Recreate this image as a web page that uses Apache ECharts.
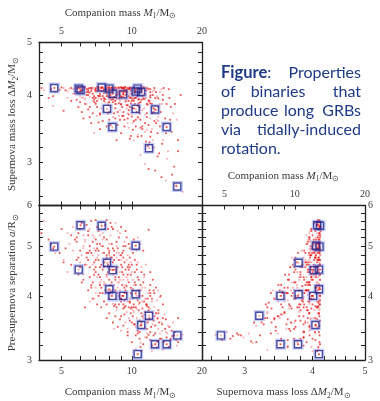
<!DOCTYPE html>
<html><head><meta charset="utf-8">
<script src="https://cdn.jsdelivr.net/npm/echarts@6/dist/echarts.min.js"></script>
<style>html,body{margin:0;padding:0;background:#fff;overflow:hidden}#c{width:380px;height:401px}</style>
</head><body><div id="c"></div>
<script>
// ---- axis ranges and ticks (real values; axes are drawn in log10 space) ----
const M1_RANGE = [4, 20];
const DM2_RANGE = [2.5, 5];
const A_RANGE = [3, 6];
const M1_LABELS = [5, 10, 20];
const M1_TICKS = [5, 6, 7, 8, 9, 10, 20];
const DM2_LABELS = [3, 4, 5];
const DM2_TICKS = [2.6, 2.8, 3.0, 3.2, 3.4, 3.6, 3.8, 4.0, 4.2, 4.4, 4.6, 4.8];
const A_LABELS = [3, 4, 5, 6];
const A_TICKS = [3.2, 3.4, 3.6, 3.8, 4.0, 4.2, 4.4, 4.6, 4.8, 5.0, 5.2, 5.4, 5.6, 5.8];

// ---- binaries: [companion mass M1, supernova mass loss dM2, separation a] ----
const cloudWide = [
[5.6,4.10,5.45],[5.9,4.12,5.30],[6.1,4.08,5.55],[6.3,4.13,5.10],[6.5,4.05,5.35],[6.7,4.11,5.60],[6.9,4.09,5.20],[7.1,4.14,5.45],[7.3,4.02,5.05],[7.5,4.12,5.30],[7.7,4.07,5.50],[7.9,4.13,4.95],[8.1,4.10,5.25],[8.3,4.04,5.40],[8.6,4.12,5.10],[8.9,4.08,5.30],[9.2,4.11,5.00],[6.0,4.06,4.90],[6.2,4.14,5.25],[6.4,4.00,4.85],[6.6,4.12,5.00],[6.8,4.13,4.80],[7.0,4.06,5.15],[7.2,4.10,4.90],[7.4,4.13,5.55],[7.6,4.03,4.85],[7.8,4.11,5.15],[8.0,4.14,4.80],[8.2,4.06,5.05],[8.4,4.13,4.90],[8.8,4.03,4.85],[9.5,4.09,5.20],[9.8,4.12,4.95],[5.4,4.11,5.05],[5.2,4.08,4.95],[5.7,4.02,5.15],[6.6,3.97,5.40],[7.0,4.12,5.62],[7.8,4.09,5.62],[8.5,4.11,5.55],[9.0,4.13,5.45],[10.2,4.12,5.15],[10.8,4.10,4.95],[11.2,4.12,4.90],[11.8,4.11,5.38],[6.9,3.95,4.95],[7.5,3.98,5.00],[8.7,4.00,4.95],[9.6,4.05,4.80]
];
const cloudMiddle = [
[5.8,4.10,4.70],[6.0,3.88,4.55],[6.2,4.12,4.40],[6.4,4.05,4.75],[6.6,3.80,4.35],[6.8,4.11,4.60],[7.0,3.95,4.45],[7.2,4.13,4.70],[7.4,3.78,4.30],[7.6,4.08,4.55],[7.8,4.02,4.40],[8.0,4.12,4.65],[8.2,3.92,4.25],[8.4,4.10,4.50],[8.6,3.85,4.75],[8.8,4.06,4.35],[9.0,4.13,4.60],[9.2,3.97,4.30],[9.4,4.09,4.50],[9.7,3.90,4.25],[10.0,4.11,4.45],[10.3,4.03,4.70],[10.7,3.86,4.30],[11.0,4.08,4.55],[6.3,4.13,4.60],[6.7,4.07,4.20],[7.1,4.10,4.35],[7.5,4.13,4.50],[7.9,3.83,4.60],[8.3,4.12,4.40],[8.7,4.03,4.55],[9.1,4.11,4.20],[9.5,4.02,4.70],[9.9,4.12,4.40],[5.5,3.90,4.60],[5.3,4.06,4.45],[6.1,3.72,4.25],[7.3,3.70,4.55],[7.7,4.11,4.22],[8.1,3.96,4.75],[8.5,4.13,4.30],[8.9,3.75,4.45],[9.3,4.08,4.65],[10.5,4.12,4.60],[11.5,3.95,4.60],[12.0,4.10,4.45],[6.9,3.88,4.65],[7.6,3.93,4.25],[8.8,4.12,4.70],[9.6,3.83,4.55],[10.1,3.98,4.30],[4.9,4.09,4.85],[4.6,3.98,4.95],[5.1,4.12,4.70]
];
const cloudLowerMiddle = [
[6.5,4.08,4.10],[6.8,3.95,3.95],[7.0,4.12,4.15],[7.3,3.68,4.05],[7.6,4.10,3.90],[7.9,3.87,4.10],[8.2,4.13,4.00],[8.5,3.62,3.85],[8.7,4.05,4.15],[9.0,3.98,3.95],[9.3,4.11,4.05],[9.6,3.55,3.90],[9.9,4.07,4.15],[10.2,3.78,3.85],[10.5,4.12,4.00],[10.9,3.48,4.10],[11.3,3.93,3.90],[11.7,4.09,4.05],[12.2,3.70,3.95],[12.7,4.05,4.15],[13.2,3.85,3.98],[13.6,4.00,3.85],[7.1,3.80,3.85],[7.7,4.13,4.05],[8.0,3.72,3.95],[8.4,4.10,3.82],[8.9,3.90,4.10],[9.2,4.13,3.85],[9.5,3.83,4.18],[9.8,4.02,3.95],[10.4,3.60,4.05],[10.8,4.10,3.88],[11.1,3.75,4.15],[11.6,4.12,3.85],[8.1,3.52,4.08],[8.6,4.12,3.95],[9.1,3.66,4.00],[9.4,4.05,3.82],[10.0,3.92,4.02],[10.6,3.82,3.92],[6.3,3.85,3.80],[6.6,4.12,3.90],[7.4,4.07,3.80],[12.5,3.58,4.05],[11.4,3.42,3.95],[10.1,4.13,4.12],[9.7,3.75,3.80],[8.3,3.95,3.86],[7.2,3.99,4.00],[12.0,3.96,4.20],[13.0,3.65,4.10]
];
const cloudLower = [
[8.0,4.10,3.70],[8.3,3.88,3.55],[8.6,4.12,3.75],[8.9,3.60,3.60],[9.2,4.05,3.50],[9.5,3.78,3.72],[9.8,4.13,3.58],[10.1,3.45,3.65],[10.4,4.08,3.48],[10.7,3.92,3.75],[11.0,3.36,3.55],[11.3,4.11,3.68],[11.6,3.70,3.45],[11.9,3.27,3.62],[12.3,4.06,3.52],[12.7,3.55,3.70],[13.1,3.12,3.55],[13.5,3.85,3.42],[14.0,3.40,3.60],[14.5,3.95,3.48],[9.0,3.95,3.42],[9.6,4.11,3.40],[10.0,3.65,3.55],[10.5,3.98,3.62],[10.9,4.12,3.50],[11.4,3.55,3.72],[11.8,3.88,3.58],[12.5,4.12,3.65],[13.0,3.80,3.75],[13.8,3.52,3.68],[8.7,3.72,3.48],[9.3,3.50,3.68],[10.2,3.30,3.72],[10.8,4.04,3.40],[12.1,3.42,3.48],[12.9,3.96,3.60],[9.9,3.36,3.78],[11.1,3.98,3.78],[15.0,3.70,3.55],[15.8,3.30,3.62],[7.8,4.05,3.62],[8.4,3.95,3.45],[10.3,3.85,3.52],[11.5,4.08,3.60],[12.0,3.62,3.78]
];
const cloudBottom = [
[9.6,4.12,3.35],[10.0,3.90,3.25],[10.4,4.10,3.15],[10.8,3.70,3.30],[11.2,4.13,3.22],[11.6,3.45,3.38],[12.0,4.05,3.28],[12.4,3.20,3.35],[12.8,3.98,3.18],[13.2,3.50,3.30],[13.7,4.12,3.25],[14.2,3.05,3.38],[14.7,3.80,3.30],[15.2,2.95,3.35],[15.6,3.60,3.20],[16.2,4.00,3.30],[10.6,3.35,3.38],[11.4,2.98,3.32],[12.6,2.90,3.38],[13.4,2.82,3.30],[14.0,2.78,3.40],[14.9,2.85,3.34],[15.5,2.72,3.28],[16.5,2.65,3.36],[11.0,4.08,3.12],[12.2,3.85,3.20],[13.6,3.30,3.14],[14.4,4.10,3.18],[15.8,3.15,3.25],[10.9,3.10,3.24],[12.9,3.08,3.26],[11.8,2.92,3.36]
];
const cloudOutliers = [
[4.2,4.08,5.60],[4.1,4.12,5.30],[4.5,4.10,5.05],[4.7,4.05,4.85],[4.4,3.95,5.15],[5.0,4.13,5.40],[4.6,3.82,4.90],[5.1,3.74,4.65]
];
const cloudCore = [
[7.0,4.10,4.55],[7.2,3.94,4.80],[7.4,4.12,4.15],[7.6,3.90,4.65],[7.8,4.03,4.35],[8.0,3.96,4.05],[8.2,4.11,4.75],[8.4,3.91,4.20],[8.6,4.00,4.45],[8.8,4.13,4.00],[9.0,3.94,4.70],[9.2,4.06,4.40],[9.4,3.89,4.10],[9.6,4.12,4.30],[9.8,3.95,3.90],[10.0,4.02,4.60],[10.2,3.92,4.20],[10.4,4.09,3.80],[10.6,3.98,4.35],[10.8,3.87,4.05],[11.0,4.11,3.70],[11.2,3.94,4.25],[11.5,4.01,3.95],[11.8,3.91,3.75],[7.1,4.07,4.95],[7.5,3.99,4.85],[7.9,4.08,4.55],[8.3,3.93,4.65],[8.7,4.07,4.25],[9.1,3.97,4.55],[9.5,4.07,4.05],[9.9,3.96,4.65],[10.3,4.06,4.45],[10.7,3.93,4.10],[11.1,4.07,3.90],[8.1,4.00,4.50],[8.5,3.90,4.10],[8.9,4.01,4.30],[9.3,4.13,3.92],[9.7,3.98,4.50],[10.1,4.03,3.75],[6.5,4.11,4.70],[6.9,3.98,4.40],[7.3,4.09,4.25],[7.7,3.93,4.10],[8.0,4.13,4.90],[8.6,3.97,4.85],[9.2,4.02,4.90],[9.8,4.10,4.75],[10.5,3.96,4.90],[11.3,4.13,4.40],[12.0,3.99,4.00],[12.5,4.08,3.80],[13.0,3.94,3.70],[12.3,4.00,4.30],[6.2,4.09,4.95],[5.8,4.13,5.20],[6.8,4.02,5.10],[10.9,4.13,5.05],[9.4,4.14,5.35]
];
const cloudSpread = [
[6.2,3.62,4.30],[6.4,3.85,4.60],[6.7,3.55,4.15],[6.9,3.92,4.50],[7.1,3.66,4.75],[7.3,3.98,4.35],[7.5,3.58,4.05],[7.7,3.88,4.70],[7.9,3.70,4.45],[8.1,3.94,4.20],[8.3,3.64,4.55],[8.5,3.85,4.35],[8.7,3.52,4.05],[8.9,3.96,4.80],[9.1,3.80,4.45],[9.3,3.60,4.15],[9.5,3.90,4.35],[9.7,3.68,4.60],[9.9,3.86,4.05],[10.1,3.55,3.95],[10.3,3.95,4.25],[10.5,3.72,4.50],[10.7,3.62,3.85],[10.9,3.88,4.20],[11.1,3.50,4.00],[11.3,3.78,4.35],[11.6,3.64,3.82],[11.9,3.90,4.10],[12.2,3.46,3.90],[6.5,3.76,4.85],[6.8,3.70,4.25],[7.0,3.84,4.05],[7.2,3.56,4.40],[7.4,3.93,4.60],[7.6,3.74,4.20],[7.8,3.98,4.80],[8.0,3.60,4.30],[8.2,3.82,4.10],[8.4,3.70,4.70],[8.6,3.94,4.50],[8.8,3.66,4.25],[9.0,3.84,3.90],[9.2,3.72,4.75],[9.4,3.96,4.20],[9.6,3.62,4.40],[9.8,3.80,4.55],[10.0,3.70,4.10],[10.2,3.90,3.80],[10.4,3.50,4.20],[10.6,3.84,4.65],[10.8,3.76,4.00],[11.0,3.92,4.45],[11.4,3.68,4.15],[11.7,3.84,3.95],[12.4,3.78,4.10],[12.8,3.60,3.92],[13.3,3.72,4.00],[5.9,3.80,4.40],[6.1,3.95,4.80],[6.6,3.64,4.55],[7.3,3.46,4.20],[8.2,3.44,4.00],[9.0,3.40,3.95],[9.8,3.32,3.88],[10.6,3.38,4.10],[11.5,3.28,3.85],[7.8,3.50,3.85],[6.9,3.40,3.95],[8.6,3.30,3.80],[12.0,3.35,4.05]
];
const cloudUpperLeft = [
[5.6,4.02,4.90],[5.8,3.92,5.10],[6.0,4.12,5.40],[6.2,3.96,5.00],[6.4,4.10,5.50],[6.6,4.04,4.90],[6.8,3.90,5.25],[7.0,4.08,4.70],[7.2,3.98,5.35],[7.4,4.12,5.00],[7.6,3.95,5.20],[7.8,4.05,4.75],[8.0,3.92,5.05],[8.2,4.12,5.45],[8.4,3.97,4.80],[8.6,4.09,5.00],[8.8,3.94,5.20],[9.0,4.06,4.80],[9.3,3.96,5.10],[9.7,4.10,5.05],[10.1,3.94,4.85],[10.6,4.05,5.20],[5.5,4.12,5.25],[5.9,4.04,4.75],[6.3,3.93,5.15],[6.7,4.12,4.85],[7.1,3.90,5.05],[7.5,4.08,5.15],[7.9,3.98,5.40],[8.3,4.10,4.95],[8.7,3.96,5.35],[9.1,4.12,4.85],[6.5,4.00,5.25],[7.3,4.13,5.25],[8.1,4.03,5.55],[9.4,4.00,5.00],[6.0,3.98,4.65],[7.0,3.86,4.90],[8.0,3.88,4.85],[5.3,3.95,5.30]
];
const cloudLowerExtra = [
[9.0,3.85,3.65],[9.3,4.08,3.80],[9.6,3.70,3.45],[9.9,3.95,3.70],[10.2,3.58,3.52],[10.5,4.12,3.78],[10.8,3.80,3.58],[11.1,3.46,3.65],[11.4,3.94,3.48],[11.7,3.22,3.55],[12.0,3.86,3.40],[12.3,3.30,3.70],[12.6,3.95,3.50],[12.9,3.40,3.62],[13.2,4.05,3.38],[13.5,3.25,3.52],[13.9,3.62,3.45],[14.3,3.15,3.50],[14.8,3.42,3.42],[15.3,3.85,3.40],[9.4,3.92,3.55],[10.0,3.78,3.80],[10.6,3.64,3.42],[11.2,4.02,3.62],[11.8,3.52,3.80],[12.4,3.72,3.58],[13.0,3.58,3.45],[13.6,3.92,3.62],[8.8,3.86,3.85],[9.7,3.48,3.62],[10.4,3.95,3.35],[11.6,3.85,3.32],[12.8,3.75,3.25],[14.1,3.85,3.32],[10.9,3.60,3.18],[12.2,4.00,3.12],[8.5,3.78,3.65],[9.2,3.66,3.78],[13.4,4.10,3.55],[14.6,3.60,3.28]
];
// highlighted systems (blue squares)
const highlighted = [
[4.65,4.12,4.99],[5.92,4.11,4.50],[6.03,4.08,5.49],[7.43,4.13,5.48],[7.83,3.77,4.64],[8.01,4.11,4.12],[8.28,4.02,4.49],[8.26,3.49,4.00],[9.19,4.01,4.00],[10.39,4.06,5.01],[10.39,3.77,4.03],[10.60,4.11,3.08],[10.98,4.05,3.51],[11.85,3.19,3.66],[12.58,3.76,3.22],[14.11,3.49,3.22],[15.67,2.71,3.35]
];

const lg = Math.log10;
const allDots = [].concat(cloudWide, cloudMiddle, cloudLowerMiddle, cloudLower, cloudBottom, cloudOutliers,
  cloudCore, cloudSpread, cloudUpperLeft, cloudLowerExtra, highlighted);

const FONT = 'Liberation Serif';
const AX = '#222';
const TXT = '#3a3a3a';
const rich = {
  r: {fontFamily: FONT, fontSize: 11, color: TXT, lineHeight: 13, verticalAlign: 'top'},
  i: {fontFamily: FONT, fontSize: 11, fontStyle: 'italic', color: TXT, lineHeight: 13, verticalAlign: 'top'},
  s: {fontFamily: FONT, fontSize: 7.5, color: TXT, lineHeight: 8, verticalAlign: 'bottom'}
};
const NAME_M1 = '{r|Companion mass }{i|M}{s|1}{r|/M}{s|\u2299}';
const NAME_DM2 = '{r|Supernova mass loss \u0394}{i|M}{s|2}{r|/M}{s|\u2299}';
const NAME_A = '{r|Pre-supernova separation }{i|a}{r|/R}{s|\u2299}';

function mkAxis(o) {
  return {
    type: 'value', gridIndex: o.grid, position: o.pos,
    min: lg(o.range[0]), max: lg(o.range[1]),
    axisLine: {show: true, onZero: false, lineStyle: {color: AX, width: 1.3}},
    axisTick: {show: true, inside: true, length: 4, customValues: o.ticks.map(lg), lineStyle: {color: AX, width: 1}},
    axisLabel: o.labels ? {
      show: true, customValues: o.labels.map(lg),
      formatter: v => String(Math.round(Math.pow(10, v))),
      margin: o.margin == null ? 7 : o.margin, fontFamily: FONT, fontSize: 10, color: TXT
    } : {show: false},
    splitLine: {show: false},
    name: o.name || '', nameLocation: 'middle', nameGap: o.nameGap || 20,
    nameTextStyle: {fontFamily: FONT, fontSize: 11, color: TXT, rich: rich}
  };
}

const xAxis = [
  mkAxis({grid: 0, pos: 'bottom', range: M1_RANGE, ticks: M1_TICKS}),
  mkAxis({grid: 0, pos: 'top', range: M1_RANGE, ticks: M1_TICKS, labels: M1_LABELS, name: NAME_M1, nameGap: 22, margin: 6}),
  mkAxis({grid: 1, pos: 'bottom', range: M1_RANGE, ticks: M1_TICKS, labels: M1_LABELS, name: NAME_M1, nameGap: 27, margin: 6}),
  mkAxis({grid: 1, pos: 'top', range: M1_RANGE, ticks: M1_TICKS}),
  mkAxis({grid: 2, pos: 'bottom', range: DM2_RANGE, ticks: DM2_TICKS, labels: DM2_LABELS, name: NAME_DM2, nameGap: 27, margin: 6}),
  mkAxis({grid: 2, pos: 'top', range: M1_RANGE, ticks: M1_TICKS, labels: M1_LABELS, name: NAME_M1, nameGap: 22, margin: 6})
];
const yAxis = [
  mkAxis({grid: 0, pos: 'left', range: DM2_RANGE, ticks: DM2_TICKS, labels: DM2_LABELS, name: NAME_DM2, nameGap: 19}),
  mkAxis({grid: 0, pos: 'right', range: DM2_RANGE, ticks: DM2_TICKS}),
  mkAxis({grid: 1, pos: 'left', range: A_RANGE, ticks: A_TICKS, labels: A_LABELS, name: NAME_A, nameGap: 19}),
  mkAxis({grid: 1, pos: 'right', range: A_RANGE, ticks: A_TICKS}),
  mkAxis({grid: 2, pos: 'left', range: A_RANGE, ticks: A_TICKS}),
  mkAxis({grid: 2, pos: 'right', range: A_RANGE, ticks: A_TICKS, labels: A_LABELS, margin: 3})
];

const panels = [
  {xi: 0, yi: 0, px: 0, py: 1},
  {xi: 2, yi: 2, px: 0, py: 2},
  {xi: 4, yi: 4, px: 1, py: 2}
];
const series = [];
panels.forEach(p => {
  series.push({
    type: 'scatter', xAxisIndex: p.xi, yAxisIndex: p.yi, symbol: 'rect', symbolSize: 1.8, z: 2,
    data: allDots.map(d => [lg(d[p.px]), lg(d[p.py])]),
    itemStyle: {color: q => (q.dataIndex % 3 === 0 ? 'rgba(245,110,120,0.7)' : 'rgba(228,20,20,0.9)')},
    silent: true
  });
  series.push({
    type: 'scatter', xAxisIndex: p.xi, yAxisIndex: p.yi, symbol: 'rect', symbolSize: 9, z: 3,
    data: highlighted.map(d => [lg(d[p.px]), lg(d[p.py])]),
    itemStyle: {color: 'rgba(0,0,0,0)', borderColor: 'rgba(110,130,225,0.5)', borderWidth: 2},
    silent: true
  });
  series.push({
    type: 'scatter', xAxisIndex: p.xi, yAxisIndex: p.yi, symbol: 'rect', symbolSize: 7, z: 4,
    data: highlighted.map(d => [lg(d[p.px]), lg(d[p.py])]),
    itemStyle: {color: 'rgba(0,0,0,0)', borderColor: '#23238c', borderWidth: 1.4},
    silent: true
  });
});

const NAVY = '#1f3a86';
const TF = 'Lato';
function t(text, x, y, align, color, size) {
  return {type: 'text', silent: true, style: {text: text, x: x, y: y, align: align || 'left', verticalAlign: 'middle',
    fill: color || NAVY, font: 'normal ' + (size || 16) + 'px ' + TF,
    rich: {b: {fontFamily: TF, fontSize: size || 16.5, fontWeight: 'bold', fill: color || NAVY}}}};
}
const graphic = [
  t('Black hole', 373, -5, 'right', '#2437d8', 17),
  t('{b|Figure}:', 221, 73, 'left'),
  t('Properties', 361, 73, 'right'),
  t('of', 221, 92, 'left'),
  t('binaries', 278, 92, 'center'),
  t('that', 361, 92, 'right'),
  t('produce', 221, 111, 'left'),
  t('long', 299, 111, 'center'),
  t('GRBs', 361, 111, 'right'),
  t('via', 221, 130, 'left'),
  t('tidally-induced', 361, 130, 'right'),
  t('rotation.', 221, 149, 'left')
];

const chart = echarts.init(document.getElementById('c'), null, {renderer: 'canvas'});
chart.setOption({
  animation: false,
  backgroundColor: '#fff',
  grid: [
    {left: 39, top: 42.5, width: 163, height: 163},
    {left: 39, top: 205.5, width: 163, height: 163},
    {left: 202, top: 205.5, width: 163, height: 163}
  ],
  xAxis: xAxis,
  yAxis: yAxis,
  series: series,
  graphic: graphic
});
</script>
</body></html>
